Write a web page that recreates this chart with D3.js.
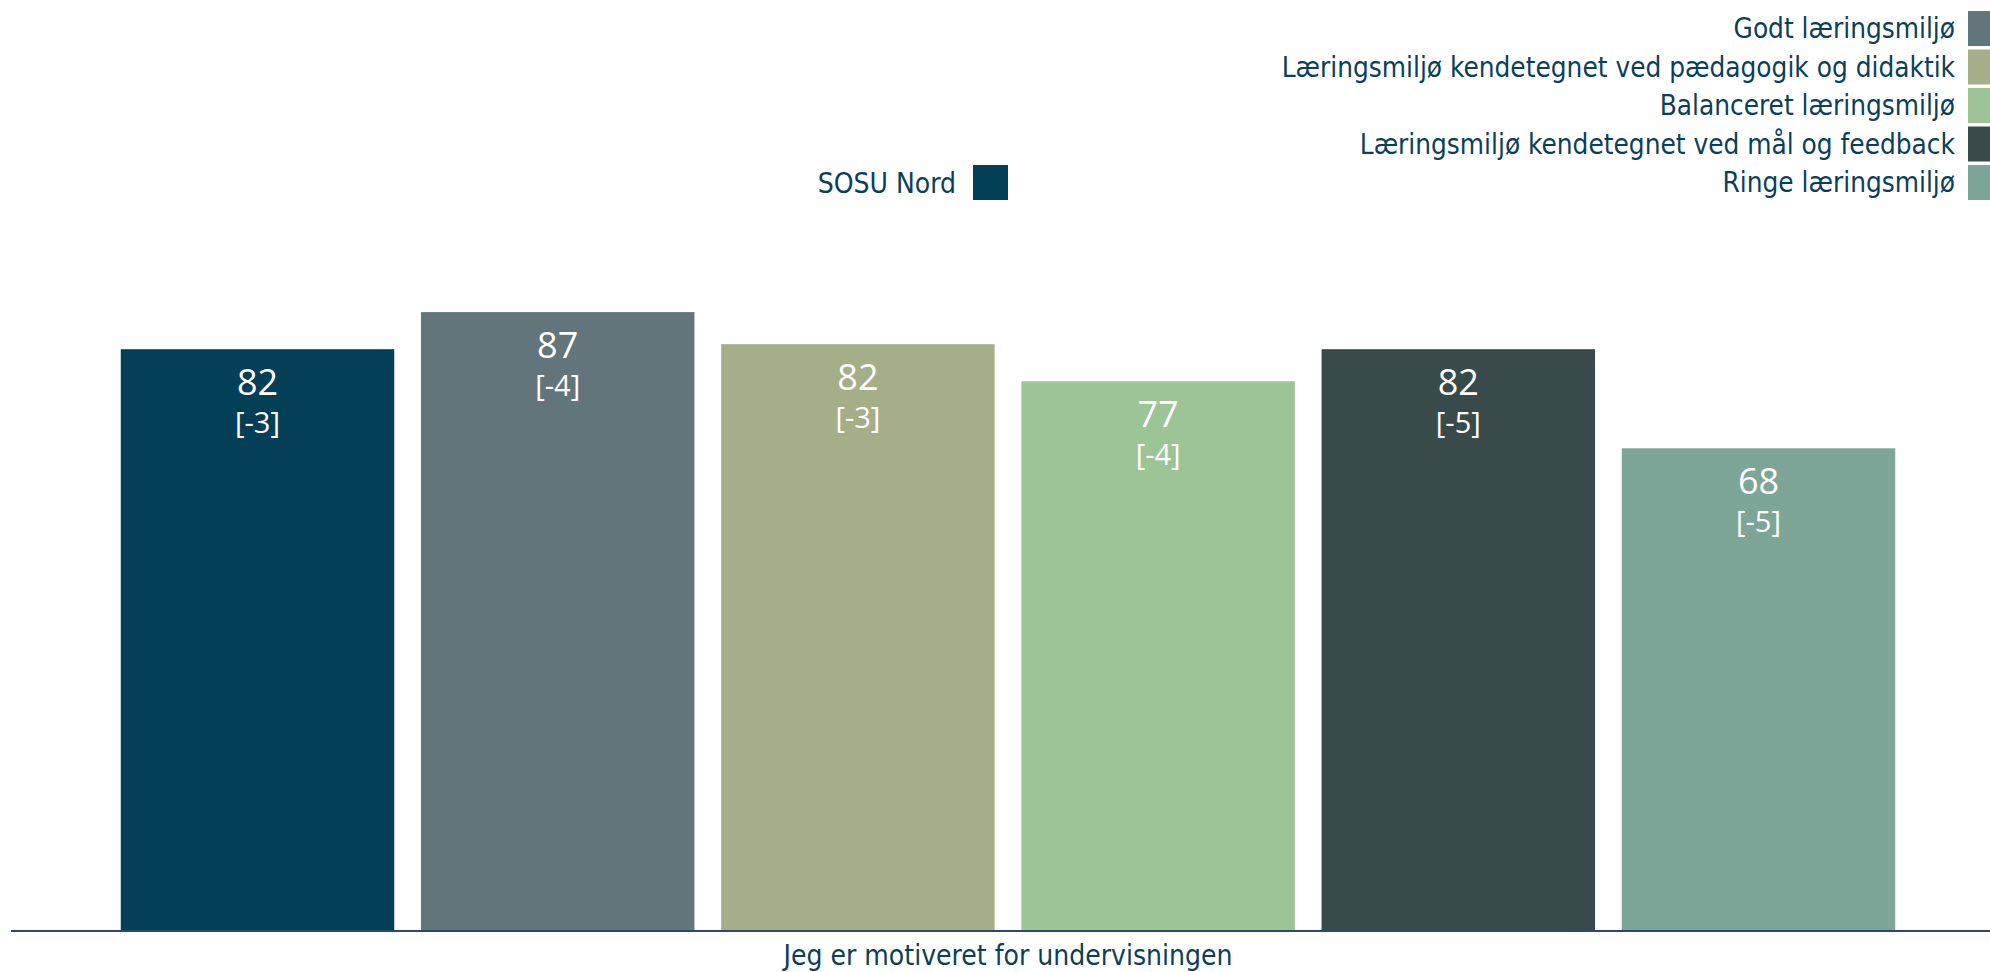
<!DOCTYPE html>
<html>
<head>
<meta charset="utf-8">
<script src="https://cdn.jsdelivr.net/npm/d3@7"></script>
<style>
  html, body { margin: 0; padding: 0; background: #fff; }
  svg { display: block; }
  text { font-family: "DejaVu Sans Condensed", "DejaVu Sans", sans-serif; }
</style>
</head>
<body>
<svg id="chart" width="1990" height="972"></svg>
<script>
const categories = ["Jeg er motiveret for undervisningen"];
const seriesNames = [
  "SOSU Nord",
  "Godt læringsmiljø",
  "Læringsmiljø kendetegnet ved pædagogik og didaktik",
  "Balanceret læringsmiljø",
  "Læringsmiljø kendetegnet ved mål og feedback",
  "Ringe læringsmiljø"
];
const values = [81.6, 86.8, 82.3, 77.1, 81.6, 67.7];
const diffs = [-3, -4, -3, -4, -5, -5];
const colors = ["#033f57", "#62757b", "#a6ad89", "#9dc497", "#394a4a", "#7ea698"];
const yTicks = [0, 100];

const W = 1990, H = 972;
const textColor = "#0b3f59";
const svg = d3.select("#chart");

const baseY = 931;
const y = d3.scaleLinear().domain([yTicks[0], yTicks[1]]).range([baseY, baseY - 713]);

const x0 = d3.scaleBand().domain(categories).range([26, 1990]);
const x1 = d3.scaleBand().domain(seriesNames)
  .range([81.4, 1882.6]).paddingInner(0.089).paddingOuter(0.0445);

const color = d3.scaleOrdinal().domain(seriesNames).range(colors);

const data = seriesNames.map((s, i) => ({ series: s, value: values[i], diff: diffs[i] }));

const g = svg.append("g");
const groups = g.selectAll("g.cat").data(categories).join("g")
  .attr("class", "cat")
  .attr("transform", d => `translate(${x0(d)},0)`);

groups.selectAll("rect").data(data).join("rect")
  .attr("x", d => x1(d.series))
  .attr("width", x1.bandwidth())
  .attr("y", d => y(d.value))
  .attr("height", d => y(0) - y(d.value))
  .attr("fill", d => color(d.series));

groups.selectAll("text.val").data(data).join("text")
  .attr("class", "val")
  .attr("x", d => x1(d.series) + x1.bandwidth() / 2)
  .attr("y", d => y(d.value) + 46)
  .attr("text-anchor", "middle")
  .attr("fill", "#fff")
  .style("font-family", "'Open Sans', sans-serif")
  .style("font-size", "36px")
  .text(d => Math.round(d.value));

groups.selectAll("text.diff").data(data).join("text")
  .attr("class", "diff")
  .attr("x", d => x1(d.series) + x1.bandwidth() / 2)
  .attr("y", d => y(d.value) + 84)
  .attr("text-anchor", "middle")
  .attr("fill", "#fff")
  .style("font-family", "'Open Sans', sans-serif")
  .style("font-size", "29px")
  .text(d => `[${d.diff}]`);

// x axis
const axisG = svg.append("g").attr("transform", `translate(0,${baseY})`)
  .call(d3.axisBottom(x0).tickSize(0).tickPadding(14));
axisG.select(".domain").remove();
axisG.selectAll(".tick text")
  .attr("fill", textColor)
  .style("font-family", "'DejaVu Sans Condensed', 'DejaVu Sans', sans-serif")
  .style("font-size", "28px");
svg.append("line")
  .attr("x1", 11).attr("x2", W)
  .attr("y1", baseY).attr("y2", baseY)
  .attr("stroke", "#2b4a6b").attr("stroke-width", 2);

// legend
const sq = 35;
const rightItems = data.slice(1);
const leg = svg.append("g");
rightItems.forEach((d, i) => {
  const cy = 28.5 + i * 38.5;
  leg.append("rect").attr("x", 1968).attr("y", cy - sq / 2)
    .attr("width", sq).attr("height", sq).attr("fill", color(d.series));
  leg.append("text").attr("x", 1955).attr("y", cy).attr("dy", "0.36em")
    .attr("text-anchor", "end").attr("fill", textColor)
    .style("font-size", "27.7px").text(d.series);
});
{
  const d = data[0];
  const cy = 182.5;
  leg.append("rect").attr("x", 973).attr("y", cy - sq / 2)
    .attr("width", sq).attr("height", sq).attr("fill", color(d.series));
  leg.append("text").attr("x", 956).attr("y", cy).attr("dy", "0.36em")
    .attr("text-anchor", "end").attr("fill", textColor)
    .style("font-size", "28px").text(d.series);
}
</script>
</body>
</html>
